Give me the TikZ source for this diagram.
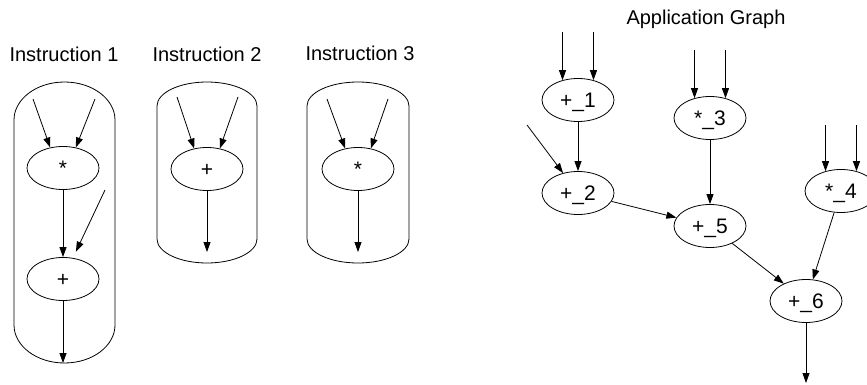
\documentclass[tikz,border=0pt]{standalone}
\usepackage{fontspec}
\setmainfont{Liberation Sans}
\usetikzlibrary{arrows.meta,shapes.geometric,calc}
\newcommand\mycapsule[5]{% cx, top, bottom, rx, ry
  \draw[capsule] ({#1-#4},{#2+#5}) .. controls ({#1-#4},{#2+#5-0.5523*#5}) and ({#1-0.5523*#4},{#2}) .. ({#1},{#2})
    .. controls ({#1+0.5523*#4},{#2}) and ({#1+#4},{#2+#5-0.5523*#5}) .. ({#1+#4},{#2+#5})
    -- ({#1+#4},{#3-#5})
    .. controls ({#1+#4},{#3-#5+0.5523*#5}) and ({#1+0.5523*#4},{#3}) .. ({#1},{#3})
    .. controls ({#1-0.5523*#4},{#3}) and ({#1-#4},{#3-#5+0.5523*#5}) .. ({#1-#4},{#3-#5}) -- cycle;}
\begin{document}
\begin{tikzpicture}[x=1pt,y=-1pt,
  every node/.style={font=\fontsize{20}{24}\selectfont},
  op/.style={draw, ellipse, line width=0.8pt, minimum width=72pt, minimum height=43pt, inner sep=0pt, text height=15pt, text depth=0pt, font=\fontsize{21}{25}\selectfont},
  arr/.style={line width=0.8pt, -{Triangle[length=10pt,width=7pt]}},
  capsule/.style={line width=0.8pt},
  title/.style={anchor=base, inner sep=0pt}]
\clip (0,0) rectangle (867,385);
\fill[white] (0,0) rectangle (867,385);
% titles
\node[title] (t1) at (64,62) {Instruction 1};
\node[title] (t2) at (207,62) {Instruction 2};
\node[title] (t3) at (360,60.5) {Instruction 3};
\node[title] (tg) at (706,25) {Application Graph};
% containers
\mycapsule{64.5}{82}{363}{50.5}{38}
\mycapsule{207}{82}{263}{50}{24}
\mycapsule{358}{82}{263}{51}{24}
% instruction 1
\node[op] (s1) at (63,168) {*};
\node[op] (p1) at (63,279) {+};
\coordinate (i1a) at (33,99);
\coordinate (i1b) at (95,99);
\coordinate (i1c) at (105,190);
\coordinate (o1) at (63,363);
\draw[arr] (i1a) -- (s1.122);
\draw[arr] (i1b) -- (s1.58);
\draw[arr] (s1) -- (p1);
\draw[arr, shorten >=7pt] (i1c) -- (p1);
\draw[arr] (p1) -- (o1);
% instruction 2
\node[op] (p2) at (207,169) {+};
\coordinate (i2a) at (177,97);
\coordinate (i2b) at (238,97);
\coordinate (o2) at (207,252);
\draw[arr] (i2a) -- (p2.122);
\draw[arr] (i2b) -- (p2.58);
\draw[arr] (p2) -- (o2);
% instruction 3
\node[op] (s2) at (358,169) {*};
\coordinate (i3a) at (327,99);
\coordinate (i3b) at (388,99);
\coordinate (o3) at (358,252);
\draw[arr] (i3a) -- (s2.122);
\draw[arr] (i3b) -- (s2.58);
\draw[arr] (s2) -- (o3);
% application graph
\node[op] (n1) at (578,100) {+\_1};
\node[op] (n3) at (710,118) {*\_3};
\node[op] (n2) at (578,193) {+\_2};
\node[op] (n4) at (841,191) {*\_4};
\node[op] (n5) at (710,226) {+\_5};
\node[op] (n6) at (806,301) {+\_6};
\coordinate (n1a) at ($(n1.128)+(0,-48)$);
\coordinate (n1b) at ($(n1.52)+(0,-48)$);
\coordinate (n3a) at ($(n3.128)+(0,-48)$);
\coordinate (n3b) at ($(n3.52)+(0,-48)$);
\coordinate (n4a) at ($(n4.128)+(0,-46)$);
\coordinate (n4b) at ($(n4.52)+(0,-46)$);
\coordinate (a2) at (527,125);
\coordinate (o6) at (806,383);
\draw[arr] (n1a) -- (n1.128);
\draw[arr] (n1b) -- (n1.52);
\draw[arr] (n3a) -- (n3.128);
\draw[arr] (n3b) -- (n3.52);
\draw[arr] (n4a) -- (n4.128);
\draw[arr] (n4b) -- (n4.52);
\draw[arr] (a2) -- (n2);
\draw[arr] (n1) -- (n2);
\draw[arr] (n3) -- (n5);
\draw[arr] (n2) -- (n5);
\draw[arr] (n5) -- (n6);
\draw[arr] (n4) -- (n6);
\draw[arr] (n6) -- (o6);
\end{tikzpicture}
\end{document}
